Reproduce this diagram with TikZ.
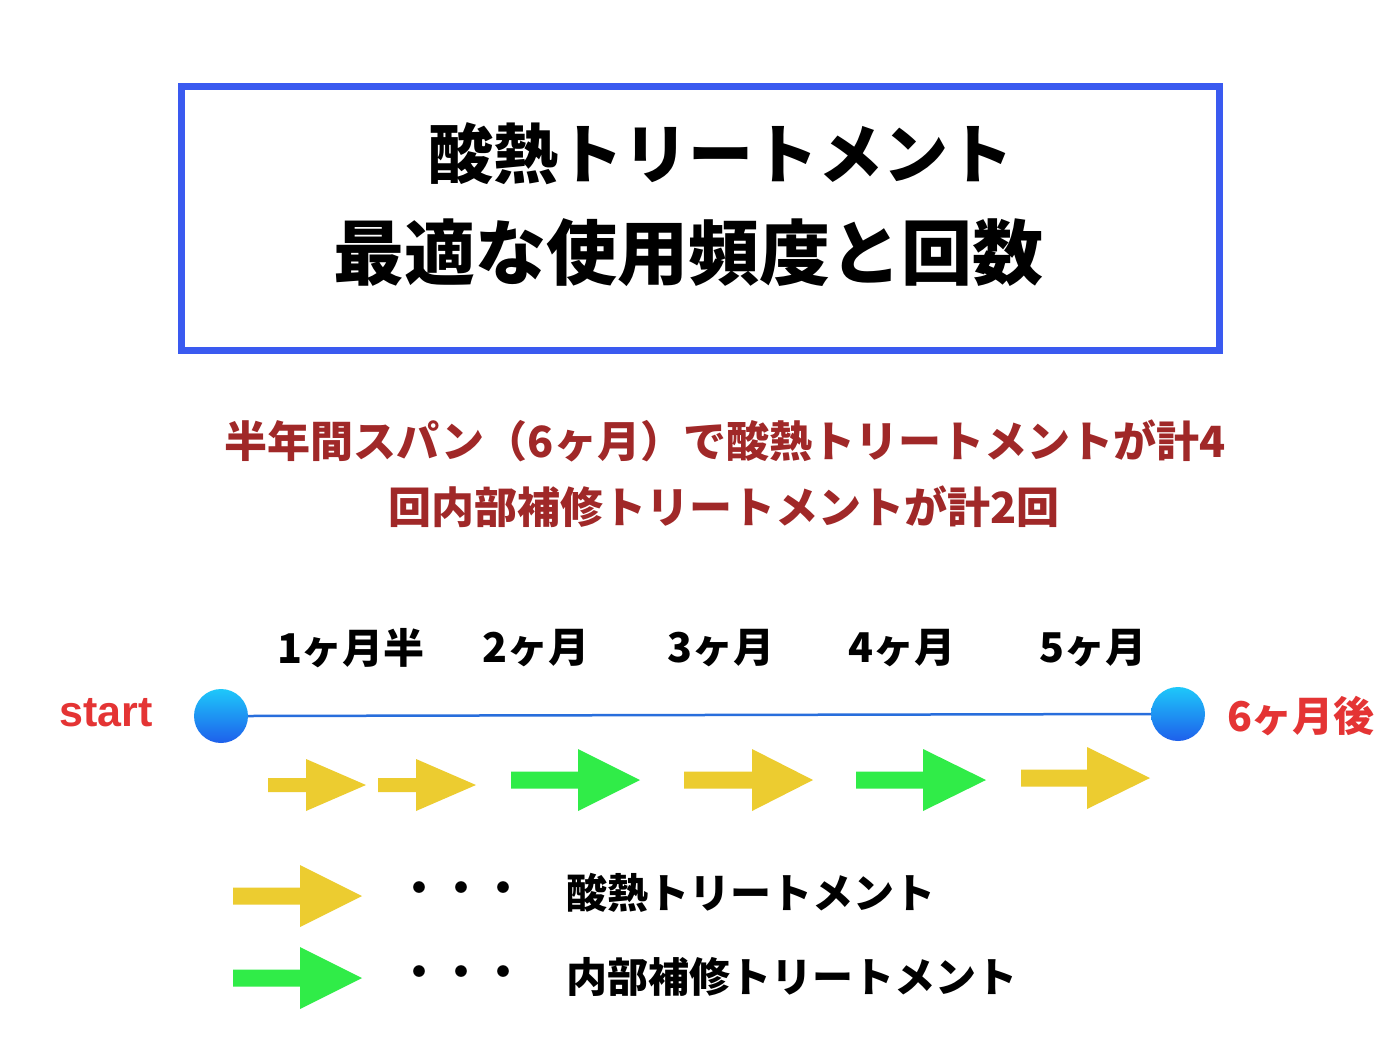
\documentclass[tikz,border=0pt]{standalone}
\usepackage{fontspec}
\newfontfamily\jp{Noto Sans CJK JP}
\newfontfamily\lat{Liberation Sans}
\definecolor{boxblue}{RGB}{58,90,240}
\definecolor{subred}{RGB}{160,40,40}
\definecolor{startred}{RGB}{228,52,52}
\definecolor{yel}{RGB}{236,204,48}
\definecolor{grn}{RGB}{48,236,72}
\definecolor{circtop}{RGB}{30,200,250}
\definecolor{circbot}{RGB}{30,95,235}
\definecolor{linecol}{RGB}{40,110,220}
\newcommand{\blkarrow}[7]{%
  \fill[#7] (#1,#4-#6) -- (#2,#4-#6) -- (#2,#4-#5) -- (#3,#4) -- (#2,#4+#5) -- (#2,#4+#6) -- (#1,#4+#6) -- cycle;}
\begin{document}
\begin{tikzpicture}[x=1pt,y=-1pt,
  jpt/.style={font=\jp\bfseries, inner sep=0pt},
  dot/.style={circle, inner sep=0pt, minimum size=54pt, top color=circtop, bottom color=circbot, draw=none},
  mlabel/.style={jpt, font=\jp\bfseries\fontsize{41}{48}\selectfont}]
\useasboundingbox (0,0) rectangle (1400,1050);
\fill[white] (0,0) rectangle (1400,1050);
% title box
\node[draw=boxblue, line width=7pt, minimum width=1038pt, minimum height=264pt, inner sep=0pt] (box) at (700,218) {};
\node[jpt, font=\jp\bfseries\fontsize{65}{78}\selectfont] (t1) at (721,154) {酸熱トリートメント};
\node[jpt, font=\jp\bfseries\fontsize{71}{84}\selectfont] (t2) at (688,253) {最適な使用頻度と回数};
% subtitle
\node[jpt, text=subred, font=\jp\bfseries\fontsize{43}{50}\selectfont] (s1) at (725,441) {半年間スパン（6ヶ月）で酸熱トリートメントが計4};
\node[jpt, text=subred, font=\jp\bfseries\fontsize{43}{50}\selectfont] (s2) at (724,507) {回内部補修トリートメントが計2回};
% month labels
\node[mlabel] (m1) at (351,648) {1ヶ月半};
\node[mlabel] (m2) at (536,648) {2ヶ月};
\node[mlabel] (m3) at (721,648) {3ヶ月};
\node[mlabel] (m4) at (902,648) {4ヶ月};
\node[mlabel] (m5) at (1093,648) {5ヶ月};
% timeline
\node[dot] (c1) at (221,716) {};
\node[dot] (c2) at (1178,714) {};
\draw[linecol, line width=2.5pt] (c1.east) -- (c2.west);
\node[inner sep=0pt, text=startred, font=\lat\bfseries\fontsize{43}{48}\selectfont] (start) at (106,713) {start};
\node[jpt, text=startred, font=\jp\bfseries\fontsize{41}{48}\selectfont] (end) at (1301,716) {6ヶ月後};
% arrows
\blkarrow{268}{306}{366}{785}{26}{7}{yel}
\blkarrow{378}{416}{476}{785}{26}{7}{yel}
\blkarrow{511}{578}{640}{780}{31}{8.5}{grn}
\blkarrow{684}{752}{813}{780}{31}{8.5}{yel}
\blkarrow{856}{923}{986}{780}{31}{8.5}{grn}
\blkarrow{1021}{1087}{1150}{778}{31}{8.5}{yel}
% legend
\blkarrow{233}{300}{362}{896}{31}{8.5}{yel}
\blkarrow{233}{300}{362}{978}{31}{8.5}{grn}
\node[jpt, font=\jp\bfseries\fontsize{42}{48}\selectfont] (d1) at (461,893) {・・・};
\node[jpt, font=\jp\bfseries\fontsize{42}{48}\selectfont] (d2) at (461,977) {・・・};
\node[jpt, anchor=west, font=\jp\bfseries\fontsize{41}{48}\selectfont] (l1) at (566,893) {酸熱トリートメント};
\node[jpt, anchor=west, font=\jp\bfseries\fontsize{41}{48}\selectfont] (l2) at (566,977) {内部補修トリートメント};
\end{tikzpicture}
\end{document}
